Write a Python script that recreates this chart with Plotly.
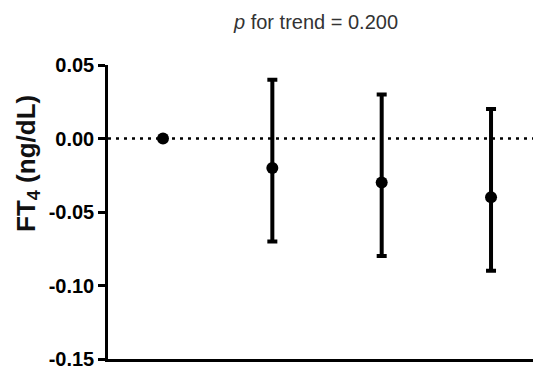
import plotly.graph_objects as go

groups = [1, 2, 3, 4]
means = [0.00, -0.02, -0.03, -0.04]
upper = [0.00, 0.04, 0.03, 0.02]
lower = [0.00, -0.07, -0.08, -0.09]
y_ticks = [0.05, 0.00, -0.05, -0.10, -0.15]
y_tick_labels = ["0.05", "0.00", "-0.05", "-0.10", "-0.15"]
title_text = "<i>p</i> for trend = 0.200"
y_title = "<b>FT<sub>4</sub> (ng/dL)</b>"

err_plus = [u - m for u, m in zip(upper, means)]
err_minus = [m - l for m, l in zip(means, lower)]

# page body has an 8px margin, so the figure is sized/offset to compensate
W, H = 533, 366
L, R, T, B = 100, 0, 57, 15
pw, ph = W - L - R, H - T - B

fig = go.Figure()
fig.add_hline(y=0, line=dict(color="black", width=2.5, dash="3px,5px"), layer="below")
fig.add_trace(go.Scatter(
    x=groups, y=means, mode="markers",
    marker=dict(color="black", size=12),
    error_y=dict(type="data", symmetric=False, array=err_plus, arrayminus=err_minus,
                 color="black", thickness=4, width=5),
    showlegend=False,
))

fig.update_layout(
    width=W, height=H,
    margin=dict(l=L, r=R, t=T, b=B),
    plot_bgcolor="white", paper_bgcolor="white",
    font=dict(family="Arial, Liberation Sans, sans-serif", color="black"),
    annotations=[
        dict(text=title_text, xref="paper", yref="paper",
             x=(307 - L) / pw, y=1 + (T - 14) / ph,
             xanchor="center", yanchor="middle",
             showarrow=False, font=dict(size=20, color="#333333")),
        dict(text=y_title, xref="paper", yref="paper", textangle=-90,
             x=(19 - L) / pw, y=1 - (156 - T) / ph,
             xanchor="center", yanchor="middle",
             showarrow=False, font=dict(size=26, color="#111111")),
    ],
)
fig.update_xaxes(range=[0.497, 4.457], showline=True, linecolor="black", linewidth=2.5,
                 showticklabels=False, ticks="", showgrid=False, zeroline=False)
fig.update_yaxes(range=[-0.15, 0.05], tickvals=y_ticks, ticktext=y_tick_labels,
                 showline=True, linecolor="black", linewidth=2.5, ticks="outside",
                 ticklen=7, tickwidth=2.5, tickcolor="black",
                 tickfont=dict(size=20, family="Arial, Liberation Sans, sans-serif", weight="bold"),
                 showgrid=False, zeroline=False)
fig.write_html("out.html")
